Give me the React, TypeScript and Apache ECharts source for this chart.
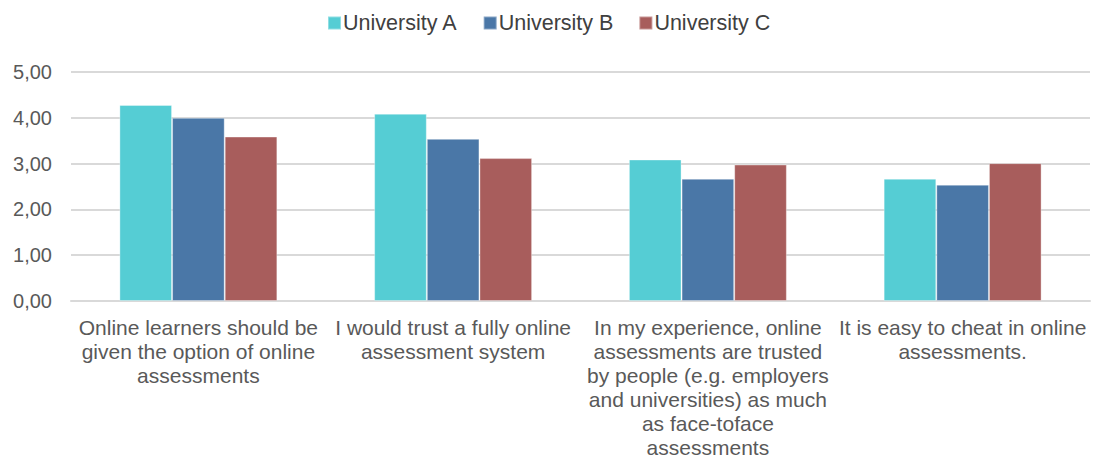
import React, { useEffect, useRef } from "react";
import * as echarts from "echarts";

const categories: string[] = [
  "Online learners should be\ngiven the option of online\nassessments",
  "I would trust a fully online\nassessment system",
  "In my experience, online\nassessments are trusted\nby people (e.g. employers\nand universities) as much\nas face-toface\nassessments",
  "It is easy to cheat in online\nassessments.",
];
const seriesNames: string[] = ["University A", "University B", "University C"];
const universityA: number[] = [4.28, 4.09, 3.09, 2.67];
const universityB: number[] = [4.0, 3.54, 2.67, 2.54];
const universityC: number[] = [3.59, 3.12, 2.98, 3.01];
const yTicks = { min: 0, max: 5, interval: 1 };

const colors = ["#55CDD4", "#4A77A7", "#A85D5C"];

export default function App() {
  const ref = useRef<HTMLDivElement>(null);
  useEffect(() => {
    if (!ref.current) return;
    const chart = echarts.init(ref.current, null, { renderer: "svg" });
    const values = [universityA, universityB, universityC];
    chart.setOption({
      animation: false,
      textStyle: { fontFamily: "'Liberation Sans', Arial, sans-serif" },
      legend: {
        top: 7,
        left: 322,
        itemWidth: 13,
        itemHeight: 13,
        itemGap: 25,
        icon: "rect",
        textStyle: { fontSize: 21.5, color: "#404040", padding: [0, 0, 0, -3] },
        data: seriesNames,
      },
      grid: { left: 71, right: 7, top: 72, bottom: 156, containLabel: false },
      xAxis: {
        type: "category",
        data: categories,
        axisLine: { lineStyle: { color: "#d9d9d9", width: 2 } },
        axisTick: { show: false },
        axisLabel: {
          interval: 0,
          color: "#595959",
          fontSize: 21,
          lineHeight: 24,
          margin: 14,
        },
      },
      yAxis: {
        type: "value",
        min: yTicks.min,
        max: yTicks.max,
        interval: yTicks.interval,
        axisLine: { show: false },
        axisTick: { show: false },
        splitLine: { lineStyle: { color: "#d9d9d9", width: 2 } },
        axisLabel: {
          color: "#595959",
          fontSize: 20,
          margin: 19,
          formatter: (v: number) => v.toFixed(2).replace(".", ","),
        },
      },
      series: seriesNames.map((name, i) => ({
        name,
        type: "bar",
        data: values[i],
        barGap: "0%",
        barCategoryGap: "38%",
        itemStyle: { color: colors[i], borderColor: "rgba(255,255,255,0.35)", borderWidth: 1 },
      })),
    });
    return () => chart.dispose();
  }, []);
  return (
    <div
      ref={ref}
      style={{ position: "absolute", left: 0, top: 0, width: 1097, height: 459, background: "#fff" }}
    />
  );
}
